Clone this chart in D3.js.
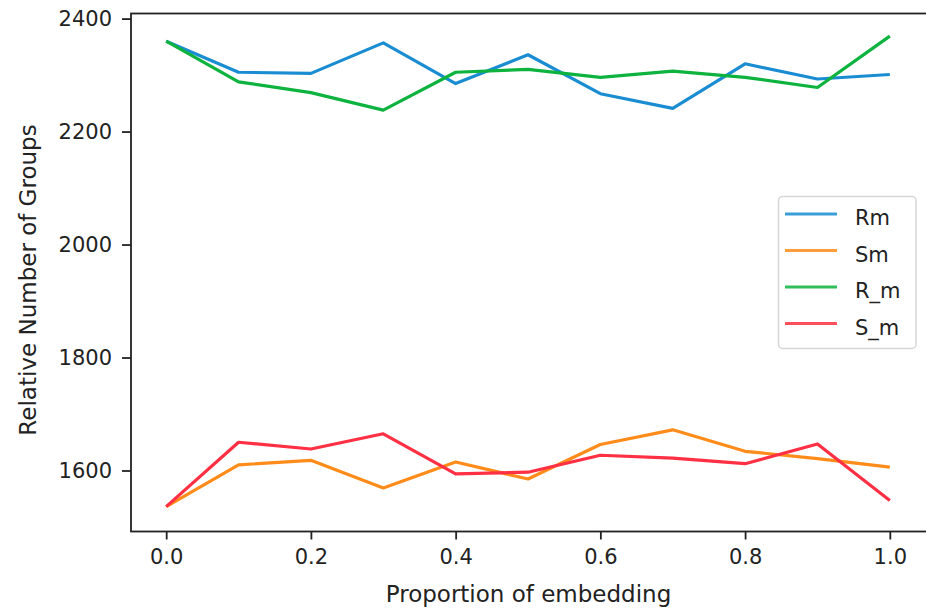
<!DOCTYPE html>
<html>
<head>
<meta charset="utf-8">
<script src="https://cdn.jsdelivr.net/npm/d3@7"></script>
<style>
  html, body { margin: 0; padding: 0; background: #fff; }
  svg { display: block; font-family: "DejaVu Sans", sans-serif; }
</style>
</head>
<body>
<svg id="chart" width="926" height="609"></svg>
<script>
// ---- data ----
const proportions = [0.0, 0.1, 0.2, 0.3, 0.4, 0.5, 0.6, 0.7, 0.8, 0.9, 1.0];
const Rm  = [2360, 2305, 2303, 2357, 2285, 2336, 2267, 2241, 2320, 2293, 2301];
const Sm  = [1536, 1610, 1618, 1569, 1615, 1585, 1646, 1672, 1634, 1621, 1606];
const R_m = [2360, 2288, 2269, 2238, 2305, 2310, 2296, 2307, 2296, 2278, 2369];
const S_m = [1536, 1650, 1638, 1665, 1594, 1597, 1627, 1622, 1612, 1647, 1547];
const seriesNames = ["Rm", "Sm", "R_m", "S_m"];
const seriesColors = ["#1a8dd2", "#ff8c1a", "#0db33e", "#ff3043"];
const xTicks = [0.0, 0.2, 0.4, 0.6, 0.8, 1.0];
const yTicks = [1600, 1800, 2000, 2200, 2400];
const xLabel = "Proportion of embedding";
const yLabel = "Relative Number of Groups";

const seriesData = [Rm, Sm, R_m, S_m];

// ---- layout ----
const svg = d3.select("#chart");
const mLeft = 131, mRight = 926, mTop = 13.5, mBottom = 531.5;

const x = d3.scaleLinear().domain([-0.05, 1.05]).range([mLeft - 1, mRight]);
const y = d3.scaleLinear().domain([1492, 2409]).range([mBottom, mTop]);

// lines
const line = d3.line().x((d, i) => x(proportions[i])).y(d => y(d));
const g = svg.append("g");
seriesData.forEach((vals, k) => {
  g.append("path")
    .datum(vals)
    .attr("d", line)
    .attr("fill", "none")
    .attr("stroke", seriesColors[k])
    .attr("stroke-width", 3.2)
    .attr("stroke-linejoin", "round")
    .attr("stroke-linecap", "butt");
});

// axes
const xAxis = d3.axisBottom(x).tickValues(xTicks).tickFormat(d3.format(".1f")).tickSize(8).tickPadding(10);
const yAxis = d3.axisLeft(y).tickValues(yTicks).tickFormat(d3.format("d")).tickSize(9).tickPadding(10);

const gx = svg.append("g").attr("transform", `translate(0,${mBottom})`).call(xAxis);
const gy = svg.append("g").attr("transform", `translate(${mLeft},0)`).call(yAxis);
[gx, gy].forEach(ax => {
  ax.select(".domain").remove();
  ax.selectAll(".tick line").attr("stroke", "#222").attr("stroke-width", 1.8);
  ax.selectAll(".tick text").attr("fill", "#222").attr("font-size", 21).attr("font-family", "DejaVu Sans");
});

// frame
svg.append("rect")
  .attr("x", mLeft).attr("y", mTop)
  .attr("width", mRight - mLeft + 2).attr("height", mBottom - mTop)
  .attr("fill", "none").attr("stroke", "#222").attr("stroke-width", 1.8);

// axis labels
svg.append("text")
  .attr("x", (mLeft + mRight) / 2).attr("y", 602)
  .attr("text-anchor", "middle").attr("font-size", 23).attr("fill", "#222")
  .text(xLabel);
svg.append("text")
  .attr("transform", "translate(36,280) rotate(-90)")
  .attr("text-anchor", "middle").attr("font-size", 23).attr("fill", "#222")
  .text(yLabel);

// legend
const lg = svg.append("g");
lg.append("rect")
  .attr("x", 778.5).attr("y", 196.5).attr("width", 137.5).attr("height", 152)
  .attr("rx", 4).attr("fill", "#fff").attr("fill-opacity", 0.8)
  .attr("stroke", "#d6d6d6").attr("stroke-width", 1.5);
const rowY = [214, 250.5, 287, 323.5];
seriesNames.forEach((name, k) => {
  lg.append("line")
    .attr("x1", 785).attr("x2", 837).attr("y1", rowY[k]).attr("y2", rowY[k])
    .attr("stroke", seriesColors[k]).attr("stroke-width", 3.2).attr("stroke-opacity", 0.85);
  lg.append("text")
    .attr("x", 855).attr("y", rowY[k] + 11)
    .attr("font-size", 21).attr("fill", "#222")
    .text(name);
});
</script>
</body>
</html>
